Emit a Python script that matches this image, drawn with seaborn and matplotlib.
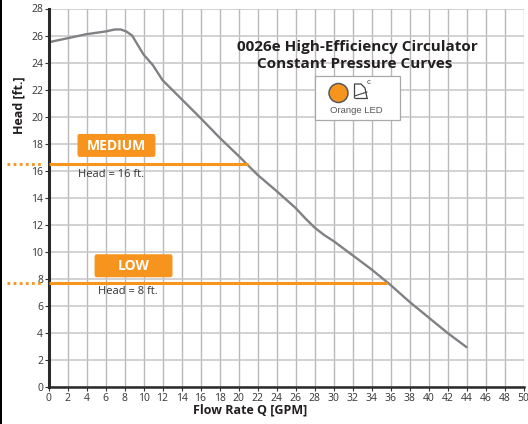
import matplotlib
matplotlib.use("Agg")
import matplotlib.pyplot as plt
import pandas as pd
import seaborn as sns
from matplotlib.patches import Circle, FancyBboxPatch, Rectangle

sns.set_style("white")
plt.rcParams['font.family'] = ['Open Sans', 'DejaVu Sans']

flow = [0, 2, 4, 6, 7, 7.6, 8.2, 8.8, 10, 11, 12, 14, 16, 18, 20, 22, 24, 26, 27, 28, 29, 30, 32, 34, 36, 38, 40, 42, 44]
head = [25.5, 25.8, 26.1, 26.3, 26.45, 26.45, 26.3, 26.0, 24.6, 23.8, 22.7, 21.3, 19.9, 18.45, 17.1, 15.7, 14.5, 13.25, 12.5, 11.8, 11.25, 10.8, 9.75, 8.7, 7.55, 6.3, 5.15, 4.0, 2.95]

level_names = ["MEDIUM", "LOW"]
level_heads = [16.5, 7.7]
level_flows = [21, 35.6]
level_notes = ["Head = 16 ft.", "Head = 8 ft."]

x_ticks = list(range(0, 51, 2))
y_ticks = list(range(0, 29, 2))

ORANGE = "#f7941e"
df = pd.DataFrame({"flow": flow, "head": head})

AX_L, AX_R, AX_T, AX_B = 48.5, 523.5, 8.5, 387

fig = plt.figure(figsize=(5.28, 4.24), dpi=100)
ax = fig.add_axes([AX_L / 528, 1 - AX_B / 424, (AX_R - AX_L) / 528, (AX_B - AX_T) / 424])
ax.set_xlim(0, 50)
ax.set_ylim(0, 28)
ax.set_xticks(x_ticks)
ax.set_yticks(y_ticks)
ax.grid(True, axis="x", color="#b9b9bb", lw=1.0)
ax.grid(True, axis="y", color="#c6c6c8", lw=1.1)
ax.set_axisbelow(True)

for s in ["top", "right"]:
    ax.spines[s].set_visible(False)
ax.spines["left"].set_linewidth(2.2)
ax.spines["bottom"].set_linewidth(1.8)
ax.spines["left"].set_color("#2b2a2a")
ax.spines["bottom"].set_color("#2b2a2a")
ax.tick_params(axis="both", length=3, width=0.8, color="#333333", labelcolor="#333333", labelsize=7.5, pad=1, bottom=True, left=True)

# pump curve
sns.lineplot(data=df, x="flow", y="head", sort=False, estimator=None, color="#808184", lw=1.7, ax=ax)

ax.set_xlabel("")
ax.set_ylabel("")

# orange constant pressure lines and labels
box_x = [3.0, 4.8]
box_y = [17.0, 8.1]
note_x = [3.1, 5.2]
note_y = [15.7, 7.05]
for i, name in enumerate(level_names):
    ax.plot([0, level_flows[i]], [level_heads[i]] * 2, color=ORANGE, lw=2.2, solid_capstyle="butt", zorder=3)
    ax.plot([-4.4, -0.8], [level_heads[i]] * 2, color=ORANGE, lw=2.0, ls=(0, (1, 1.2)), clip_on=False, zorder=3)
    ax.add_patch(FancyBboxPatch((box_x[i] + 0.15, box_y[i] + 0.12), 8.0, 1.5, boxstyle="round,pad=0.1,rounding_size=0.2",
                                fc=ORANGE, ec="none", zorder=4))
    ax.text(box_x[i] + 4.15, box_y[i] + 0.83, name, color="white", fontsize=10, fontweight="bold", ha="center", va="center", zorder=5)
    ax.text(note_x[i], note_y[i], level_notes[i], color="#333333", fontsize=8, ha="left", va="center", zorder=5)


def px(x, y):
    return x / 528, 1 - y / 424


# axis labels and title
fig.text(*px(250.5, 409.5), "Flow Rate Q [GPM]", fontsize=9, fontweight="bold", color="#231f20", ha="center", va="center")
fig.text(*px(19, 105), "Head [ft.]", fontsize=9, fontweight="bold", color="#231f20", ha="center", va="center", rotation=90)
fig.text(*px(357, 47), "0026e High-Efficiency Circulator", fontsize=11, fontweight="bold", color="#231f20", ha="center", va="center")
fig.text(*px(355, 64), "Constant Pressure Curves", fontsize=11, fontweight="bold", color="#231f20", ha="center", va="center")

# LED legend box, placed in pixels
tf = fig.transFigure
fig.patches.append(Rectangle(px(315, 120), 85 / 528, 44 / 424, transform=tf, fc="white", ec="#a7a9ac", lw=0.9, zorder=5))
fig.patches.append(Rectangle((0, 0), 1.5 / 528, 1, transform=tf, fc="black", ec="none"))
fig.patches.append(Circle((338.5, 424 - 93), 9.5, transform=None, fc=ORANGE, ec="#58595b", lw=1.1, zorder=6))
icon_x = [354.5, 354.5, 361, 365, 367]
icon_y = [98, 84, 84, 88, 98]
fig.add_artist(plt.Line2D([px(a, 0)[0] for a in icon_x], [px(0, b)[1] for b in icon_y], color="#414042", lw=0.9, zorder=6))
fig.add_artist(plt.Line2D([px(354.5, 0)[0], px(367, 0)[0]], [px(0, 96)[1], px(0, 92)[1]], color="#414042", lw=0.8, zorder=6))
fig.add_artist(plt.Line2D([px(354.5, 0)[0], px(367, 0)[0]], [px(0, 98)[1]] * 2, color="#414042", lw=0.9, zorder=6))
fig.text(*px(368.5, 83), "c", fontsize=5.5, family="Liberation Sans", color="#414042", ha="center", va="center", zorder=6)
fig.text(*px(356, 110.5), "Orange LED", fontsize=6.8, family="Liberation Sans", color="#58595b", ha="center", va="center", zorder=6)

fig.savefig("out.png", dpi=100)
